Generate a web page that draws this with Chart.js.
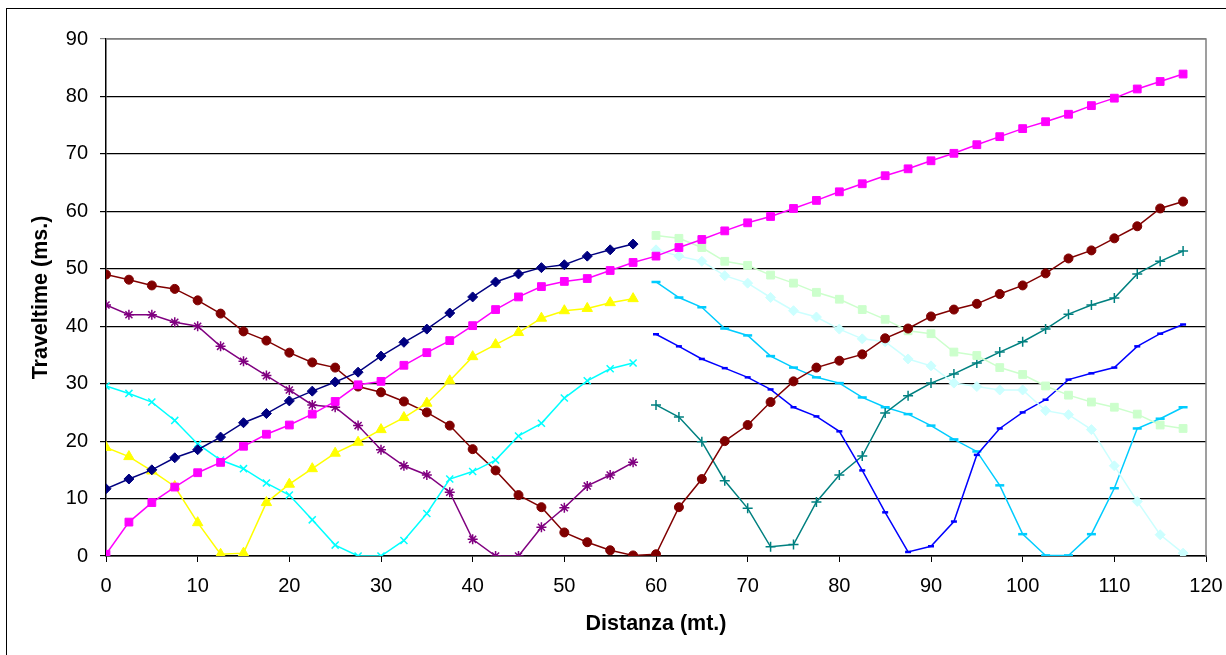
<!DOCTYPE html>
<html>
<head>
<meta charset="utf-8">
<script src="https://cdn.jsdelivr.net/npm/chart.js@4/dist/chart.umd.min.js"></script>
<style>
  html, body { margin: 0; padding: 0; background: #fff; }
  #wrap { position: relative; width: 1226px; height: 655px; }
  #frame { position: absolute; left: 6px; top: 8px; right: -10px; bottom: -10px;
           border-left: 1.5px solid #000; border-top: 1.5px solid #000; pointer-events: none; }
</style>
</head>
<body>
<div id="wrap">
  <canvas id="chart" width="1226" height="655"></canvas>
  <div id="frame"></div>
</div>
<script>
// distanze (mt.)
const xPrima = [0, 2.5, 5, 7.5, 10, 12.5, 15, 17.5, 20, 22.5, 25, 27.5, 30, 32.5, 35, 37.5, 40, 42.5, 45, 47.5, 50, 52.5, 55, 57.5];
const xSeconda = [60, 62.5, 65, 67.5, 70, 72.5, 75, 77.5, 80, 82.5, 85, 87.5, 90, 92.5, 95, 97.5, 100, 102.5, 105, 107.5, 110, 112.5, 115, 117.5];
const xTutte = xPrima.concat(xSeconda);

// traveltime (ms.)
const serieBlu = [11.7, 13.4, 15.0, 17.1, 18.5, 20.7, 23.2, 24.8, 27.0, 28.7, 30.3, 32.0, 34.8, 37.2, 39.5, 42.3, 45.1, 47.7, 49.1, 50.2, 50.7, 52.2, 53.3, 54.3];
const serieMagenta = [0.3, 5.9, 9.3, 12.0, 14.5, 16.3, 19.1, 21.2, 22.8, 24.7, 26.9, 29.8, 30.4, 33.2, 35.4, 37.5, 40.1, 42.9, 45.1, 46.9, 47.8, 48.3, 49.7, 51.1,
                      52.2, 53.7, 55.1, 56.6, 58.0, 59.1, 60.5, 61.9, 63.4, 64.8, 66.2, 67.4, 68.8, 70.1, 71.6, 73.0, 74.4, 75.6, 76.9, 78.4, 79.7, 81.3, 82.6, 83.9];
const serieGialla = [18.9, 17.3, 14.8, 12.1, 5.8, 0.3, 0.5, 9.3, 12.5, 15.2, 17.9, 19.8, 22.0, 24.1, 26.6, 30.5, 34.7, 36.8, 38.9, 41.4, 42.7, 43.1, 44.1, 44.8];
const serieCiano = [29.6, 28.3, 26.8, 23.6, 19.5, 16.7, 15.2, 12.7, 10.6, 6.3, 1.9, 0, 0, 2.7, 7.4, 13.4, 14.7, 16.7, 20.9, 23.1, 27.5, 30.5, 32.6, 33.6];
const serieViola = [43.7, 42.0, 42.0, 40.7, 40.0, 36.5, 33.9, 31.4, 28.9, 26.3, 25.9, 22.7, 18.5, 15.7, 14.1, 11.1, 2.9, 0, 0, 5.0, 8.4, 12.2, 14.1, 16.3];
const serieBordeaux = [49.0, 48.1, 47.1, 46.5, 44.5, 42.2, 39.1, 37.5, 35.4, 33.7, 32.8, 29.5, 28.5, 26.9, 25.0, 22.7, 18.6, 14.9, 10.6, 8.5, 4.1, 2.4, 1.0, 0.1,
                       0.3, 8.5, 13.4, 20.0, 22.8, 26.8, 30.4, 32.8, 34.0, 35.1, 37.9, 39.6, 41.7, 42.9, 43.9, 45.6, 47.1, 49.2, 51.8, 53.2, 55.3, 57.4, 60.5, 61.7];
const serieVerdeChiaro = [55.8, 55.3, 53.7, 51.3, 50.6, 48.9, 47.5, 45.9, 44.7, 42.9, 41.2, 39.2, 38.7, 35.5, 34.9, 32.8, 31.6, 29.6, 28.0, 26.8, 25.9, 24.7, 22.8, 22.2];
const serieCianoChiaro = [53.3, 52.2, 51.3, 48.8, 47.5, 45.0, 42.7, 41.6, 39.5, 37.8, 37.3, 34.3, 33.1, 30.1, 29.5, 28.9, 28.9, 25.3, 24.6, 22.0, 15.7, 9.5, 3.7, 0.5];
const serieBluChiaro = [38.6, 36.5, 34.3, 32.7, 31.1, 29.0, 25.9, 24.3, 21.7, 14.9, 7.6, 0.7, 1.7, 6.0, 17.6, 22.2, 25.0, 27.2, 30.7, 31.8, 32.8, 36.5, 38.7, 40.3];
const serieTeal = [26.3, 24.2, 19.9, 13.1, 8.3, 1.6, 2.0, 9.4, 14.1, 17.4, 24.9, 27.9, 30.1, 31.7, 33.6, 35.5, 37.3, 39.5, 42.1, 43.7, 44.9, 49.1, 51.3, 53.1];
const serieAzzurra = [47.7, 45.0, 43.3, 39.6, 38.4, 34.8, 32.8, 31.1, 30.1, 27.6, 25.9, 24.7, 22.7, 20.3, 18.2, 12.3, 3.8, 0.1, 0.1, 3.8, 11.8, 22.2, 23.9, 25.9];

// assi
const xTicks = [0, 10, 20, 30, 40, 50, 60, 70, 80, 90, 100, 110, 120];
const yTicks = [0, 10, 20, 30, 40, 50, 60, 70, 80, 90];

const punti = (xs, ys) => xs.map((x, i) => ({ x: x, y: ys[i] }));

function serie(xs, ys, colore, stile, raggio, spessore) {
  return {
    data: punti(xs, ys),
    borderColor: colore,
    backgroundColor: colore,
    borderWidth: 1.5,
    pointStyle: stile,
    pointRadius: raggio,
    pointBorderColor: colore,
    pointBackgroundColor: colore,
    pointBorderWidth: spessore || 1,
    tension: 0
  };
}

// bordo grigio sopra e a destra dell'area del grafico
const bordoArea = {
  id: 'bordoArea',
  beforeDatasetsDraw(chart) {
    const { ctx, chartArea: a } = chart;
    ctx.save();
    ctx.strokeStyle = '#808080';
    ctx.lineWidth = 1.5;
    ctx.beginPath();
    ctx.moveTo(a.left, a.top);
    ctx.lineTo(a.right, a.top);
    ctx.lineTo(a.right, a.bottom);
    ctx.stroke();
    ctx.restore();
  }
};

new Chart(document.getElementById('chart'), {
  type: 'line',
  data: {
    datasets: [
      serie(xPrima, serieBlu, '#000080', 'rectRot', 5),
      serie(xTutte, serieMagenta, '#FF00FF', 'rect', 5.5),
      serie(xPrima, serieGialla, '#FFFF00', 'triangle', 6),
      serie(xPrima, serieCiano, '#00FFFF', 'crossRot', 5, 1.5),
      serie(xPrima, serieViola, '#800080', 'star', 5, 1.5),
      serie(xTutte, serieBordeaux, '#800000', 'circle', 4.5),
      serie(xSeconda, serieVerdeChiaro, '#CCFFCC', 'rect', 5.5),
      serie(xSeconda, serieCianoChiaro, '#CCFFFF', 'rectRot', 5),
      serie(xSeconda, serieBluChiaro, '#0000FF', 'line', 3, 2.5),
      serie(xSeconda, serieTeal, '#008080', 'cross', 5, 1.5),
      serie(xSeconda, serieAzzurra, '#00CCFF', 'line', 4.5, 2.5)
    ]
  },
  options: {
    responsive: false,
    animation: false,
    layout: { padding: { left: 0, right: 20, top: 39, bottom: 0 } },
    plugins: { legend: { display: false }, tooltip: { enabled: false } },
    scales: {
      x: {
        type: 'linear',
        min: 0,
        max: 120,
        afterBuildTicks: (s) => { s.ticks = xTicks.map(v => ({ value: v })); },
        afterFit: (s) => { s.height = 99; s.paddingLeft = 0; s.paddingRight = 0; },
        grid: { drawOnChartArea: false, drawTicks: true, tickLength: 6, color: '#000' },
        border: { color: '#000', width: 1.5 },
        ticks: { color: '#000', padding: 12, font: { family: 'Liberation Sans, Arial', size: 20 } },
        title: {
          display: true,
          text: 'Distanza (mt.)',
          color: '#000',
          padding: { top: 0, bottom: 18 },
          font: { family: 'Liberation Sans, Arial', size: 21.5, weight: 'bold' }
        }
      },
      y: {
        min: 0,
        max: 90,
        afterBuildTicks: (s) => { s.ticks = yTicks.map(v => ({ value: v })); },
        afterFit: (s) => { s.width = 106; s.paddingTop = 0; s.paddingBottom = 0; },
        grid: {
          tickLength: 6,
          color: (c) => (c.tick && c.tick.value === 90 ? '#808080' : '#000'),
          lineWidth: 1.2
        },
        border: { color: '#000', width: 1.5 },
        ticks: { color: '#000', padding: 12, font: { family: 'Liberation Sans, Arial', size: 20 } },
        title: {
          display: true,
          text: 'Traveltime (ms.)',
          color: '#000',
          padding: { top: 28, bottom: 0 },
          font: { family: 'Liberation Sans, Arial', size: 21.5, weight: 'bold' }
        }
      }
    }
  },
  plugins: [bordoArea]
});
</script>
</body>
</html>
